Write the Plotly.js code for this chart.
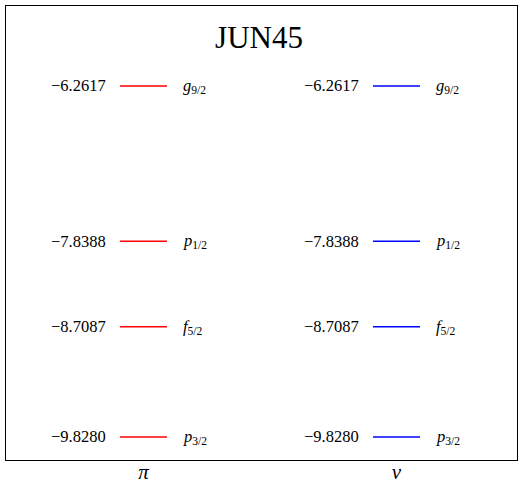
<!DOCTYPE html>
<html>
<head>
<meta charset="utf-8">
<script src="https://cdn.plot.ly/plotly-3.0.1.min.js"></script>
<style>html,body{margin:0;padding:0;background:#fff;}</style>
</head>
<body>
<div id="chart" style="width:518px;height:480px;"></div>
<script>
const species = ['π', 'ν'];
const speciesColors = ['red', 'blue'];
const energies = [-6.2617, -7.8388, -8.7087, -9.8280];
const orbitalLetters = ['g', 'p', 'f', 'p'];
const orbitalJ = ['9/2', '1/2', '5/2', '3/2'];
const titleText = 'JUN45';

const FONT = 'Liberation Serif, DejaVu Serif, serif';
const halfW = 0.093;
const traces = [];
const annotations = [];
species.forEach((sp, si) => {
  energies.forEach((e, li) => {
    traces.push({
      x: [si - halfW, si + halfW],
      y: [e, e],
      mode: 'lines',
      line: {color: speciesColors[si], width: 1.5},
      hoverinfo: 'skip',
      showlegend: false
    });
    annotations.push({
      x: si - 0.14, y: e, xref: 'x', yref: 'y',
      text: '\u2212' + Math.abs(e).toFixed(4),
      showarrow: false, xanchor: 'right', yanchor: 'middle',
      font: {family: FONT, size: 16.5, color: '#000'}
    });
    annotations.push({
      x: si + 0.148, y: e, xref: 'x', yref: 'y',
      text: '<i>' + orbitalLetters[li] + '</i><sub>' + orbitalJ[li] + '</sub>',
      showarrow: false, xanchor: 'left', yanchor: 'middle',
      font: {family: FONT, size: 16.5, color: '#000'}
    });
  });
});

const layout = {
  width: 518, height: 480,
  margin: {l: 6, r: 1, t: 6, b: 20},
  paper_bgcolor: '#fff', plot_bgcolor: '#fff',
  title: {text: titleText, font: {family: FONT, size: 31, color: '#000'},
          x: 0.5, xanchor: 'center', y: 1 - 37/480, yanchor: 'middle', yref: 'container'},
  xaxis: {range: [-0.543, 1.476], tickvals: [0, 1],
          ticktext: species.map(s => '<i>' + s + '</i>'),
          showgrid: false, zeroline: false, ticks: '',
          ticklabelstandoff: -7,
          showline: true, mirror: true, linecolor: '#000', linewidth: 1,
          tickfont: {family: FONT, size: 21, color: '#000'}, fixedrange: true},
  yaxis: {range: [-10.062, -5.449], showticklabels: false, showgrid: false,
          zeroline: false, ticks: '', showline: true, mirror: true,
          linecolor: '#000', linewidth: 1, fixedrange: true},
  annotations: annotations,
  showlegend: false
};
Plotly.newPlot('chart', traces, layout, {displayModeBar: false, staticPlot: true});
</script>
</body>
</html>
